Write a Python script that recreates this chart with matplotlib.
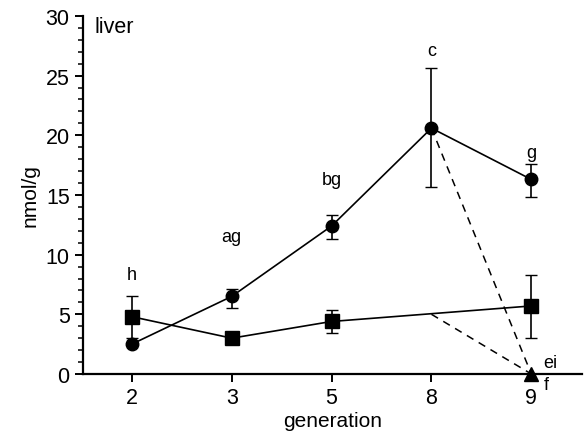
import numpy as np
import matplotlib.pyplot as plt

plt.rcParams['font.family'] = ['Liberation Sans', 'DejaVu Sans']

gens = ['2', '3', '5', '8', '9']

circ = [2.5, 6.5, 12.4, 20.6, 16.3]
circ_lo = [2.5, 5.5, 11.3, 15.7, 14.8]
circ_hi = [2.5, 7.1, 13.3, 25.6, 17.6]

sq_gens = ['2', '3', '5', '9']
sq = [4.8, 3.0, 4.4, 5.7]
sq_lo = [3.0, 3.0, 3.4, 3.0]
sq_hi = [6.5, 3.0, 5.4, 8.3]

# dashed drop to gen 9
drop_from = [20.6, 5.0]
drop_to = 0.0

letters = ['h', 'ag', 'bg', 'c', 'g']
letter_y = [8.3, 11.5, 16.3, 27.1, 18.6]

x = np.arange(len(gens))
xs = np.array([gens.index(g) for g in sq_gens])

fig = plt.figure(figsize=(5.84, 4.35), dpi=100)
ax = fig.add_axes([0.142, 0.138, 0.855, 0.823])

ax.errorbar(x, circ, yerr=[np.array(circ) - circ_lo, np.array(circ_hi) - circ],
            color='black', marker='o', markersize=9, lw=1.2, capsize=4, elinewidth=1.2)
ax.errorbar(xs, sq, yerr=[np.array(sq) - sq_lo, np.array(sq_hi) - sq],
            color='black', marker='s', markersize=10, lw=1.2, capsize=4, elinewidth=1.2)
for y0 in drop_from:
    ax.plot([3, 4], [y0, drop_to], color='black', ls=(0, (5, 4)), lw=1.1)
ax.plot([4], [drop_to], marker='^', color='black', markersize=10, clip_on=False, zorder=5)

for xi, t, ty in zip(x, letters, letter_y):
    ax.text(xi, ty, t, ha='center', va='center', fontsize=13)
ax.text(4.12, 1.0, 'ei', ha='left', va='center', fontsize=13)
ax.text(4.12, -0.9, 'f', ha='left', va='center', fontsize=13)
ax.text(-0.37, 29.1, 'liver', ha='left', va='center', fontsize=15.5)

ax.set_xlim(-0.49, 4.51)
ax.set_ylim(0, 30)
ax.set_xticks(x)
ax.set_xticklabels(gens)
ax.set_yticks(np.arange(0, 31, 5))
ax.set_yticks(np.arange(0, 31, 1), minor=True)
ax.spines['top'].set_visible(False)
ax.spines['right'].set_visible(False)
ax.spines['left'].set_linewidth(1.6)
ax.spines['bottom'].set_linewidth(1.6)
ax.tick_params(axis='both', which='major', labelsize=15.5, width=1.4, length=6)
ax.tick_params(axis='y', which='minor', width=1.1, length=3.5)
ax.set_xlabel('generation', fontsize=15, labelpad=2)
ax.set_ylabel('nmol/g', fontsize=15)

fig.savefig('out.png', dpi=100)
